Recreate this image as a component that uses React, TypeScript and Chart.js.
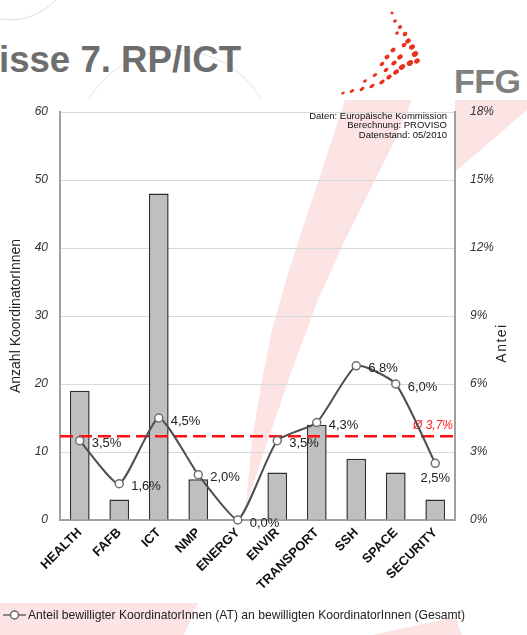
import React, { useEffect, useRef } from "react";
import { Chart, registerables } from "chart.js";

Chart.register(...registerables);

// ---------- data ----------
const categories = ["HEALTH", "FAFB", "ICT", "NMP", "ENERGY", "ENVIR", "TRANSPORT", "SSH", "SPACE", "SECURITY"];
const coordinatorCounts = [19, 3, 48, 6, 0, 7, 14, 9, 7, 3];
const shareAT = [3.5, 1.6, 4.5, 2.0, 0.0, 3.5, 4.3, 6.8, 6.0, 2.5];
const averageShare = 3.7;
const countMax = 60;
const countStep = 10;
const shareMax = 18;
const shareStep = 3;

const titleText = "isse 7. RP/ICT";
const logoText = "FFG";
const leftAxisTitle = "Anzahl KoordinatorInnen";
const rightAxisTitle = "Antei";
const sourceNote = ["Daten: Europäische Kommission", "Berechnung: PROVISO", "Datenstand: 05/2010"];
const averageLabel = "Ø 3,7%";
const legendLabel = "Anteil bewilligter KoordinatorInnen (AT) an bewilligten KoordinatorInnen (Gesamt)";

const FONT = "'Liberation Sans', Arial, Helvetica, sans-serif";
const NARROW = "'Liberation Sans Narrow', 'Arial Narrow', 'Liberation Sans', Arial, sans-serif";

const fmtPct = (v: number) => v.toFixed(1).replace(".", ",") + "%";

export default function App() {
  const ref = useRef<HTMLCanvasElement>(null);

  useEffect(() => {
    const canvas = ref.current;
    if (!canvas) return;

    const overlay = {
      id: "overlay",
      afterDatasetDraw(chart: any, args: any) {
        if (args.index !== 1) return;
        const { ctx, chartArea } = chart;
        const y = chart.scales.y1.getPixelForValue(averageShare);
        ctx.save();
        ctx.strokeStyle = "#ff1010";
        ctx.lineWidth = 2.5;
        ctx.setLineDash([13, 6]);
        ctx.beginPath();
        ctx.moveTo(chartArea.left, y);
        ctx.lineTo(chartArea.right, y);
        ctx.stroke();
        ctx.setLineDash([]);
        ctx.fillStyle = "#ff2020";
        ctx.font = `italic 12px ${FONT}`;
        ctx.textAlign = "right";
        ctx.textBaseline = "alphabetic";
        ctx.fillText(averageLabel, chartArea.right - 2, y - 7);
        ctx.restore();
      },
      afterDatasetsDraw(chart: any) {
        const { ctx, chartArea } = chart;
        const meta = chart.getDatasetMeta(0);
        ctx.save();
        ctx.font = `13px ${FONT}`;
        ctx.fillStyle = "#222";
        meta.data.forEach((pt: any, i: number) => {
          const txt = fmtPct(shareAT[i]);
          const w = ctx.measureText(txt).width;
          if (pt.x + 12 + w > chartArea.right) {
            ctx.textAlign = "center";
            ctx.textBaseline = "middle";
            ctx.fillText(txt, pt.x, pt.y + 15);
          } else {
            ctx.textAlign = "left";
            ctx.textBaseline = "middle";
            ctx.fillText(txt, pt.x + 12, pt.y + 3);
          }
        });
        // source note
        ctx.font = `9.5px ${FONT}`;
        ctx.fillStyle = "#111";
        ctx.textAlign = "right";
        ctx.textBaseline = "middle";
        sourceNote.forEach((line, i) => {
          ctx.fillText(line, chartArea.right - 8, chartArea.top + 4 + i * 9.5);
        });
        ctx.restore();
      },
      afterDraw(chart: any) {
        const { ctx, chartArea } = chart;
        ctx.save();
        // right axis title (reads bottom to top)
        ctx.translate(502, (chartArea.top + chartArea.bottom) / 2 + 27);
        ctx.rotate(-Math.PI / 2);
        ctx.font = `14px ${FONT}`;
        (ctx as any).letterSpacing = "1.5px";
        ctx.fillStyle = "#222";
        ctx.textAlign = "center";
        ctx.textBaseline = "middle";
        ctx.fillText(rightAxisTitle, 0, 0);
        ctx.restore();

        // legend
        ctx.save();
        const ly = 615;
        ctx.strokeStyle = "#666";
        ctx.lineWidth = 1.5;
        ctx.beginPath();
        ctx.moveTo(3, ly);
        ctx.lineTo(26, ly);
        ctx.stroke();
        ctx.beginPath();
        ctx.arc(14.5, ly, 4, 0, Math.PI * 2);
        ctx.fillStyle = "#fff";
        ctx.fill();
        ctx.stroke();
        ctx.font = `13px ${NARROW}`;
        const label = chart.data.datasets[0].label as string;
        const w = ctx.measureText(label).width;
        const target = 437;
        ctx.translate(28, ly);
        ctx.scale(target / w, 1);
        ctx.fillStyle = "#222";
        ctx.textAlign = "left";
        ctx.textBaseline = "middle";
        ctx.fillText(label, 0, 0);
        ctx.restore();
      },
    };

    const chart = new Chart(canvas, {
      type: "bar",
      data: {
        labels: categories,
        datasets: [
          {
            type: "line",
            label: legendLabel,
            data: shareAT,
            yAxisID: "y1",
            borderColor: "#4f4f4f",
            borderWidth: 2,
            tension: 0.18,
            pointRadius: 4,
            pointBackgroundColor: "#ffffff",
            pointBorderColor: "#707070",
            pointBorderWidth: 1.5,
            order: 0,
            clip: false,
          } as any,
          {
            type: "bar",
            label: "Anzahl KoordinatorInnen",
            data: coordinatorCounts,
            yAxisID: "y",
            backgroundColor: "#bfbfbf",
            borderColor: "#2e2e2e",
            borderWidth: 1.5,
            barPercentage: 0.5,
            categoryPercentage: 1,
            order: 1,
          } as any,
        ],
      },
      options: {
        animation: false,
        responsive: false,
        maintainAspectRatio: false,
        devicePixelRatio: 1,
        layout: { padding: { top: 112, left: 0, right: 0, bottom: 0 } },
        plugins: {
          legend: { display: false },
          tooltip: { enabled: false },
        },
        scales: {
          x: {
            afterFit: (s: any) => {
              s.height = 115;
            },
            grid: { display: false, drawTicks: false },
            border: { display: true, color: "#a0a0a0", width: 2 },
            ticks: {
              minRotation: 45,
              maxRotation: 45,
              autoSkip: false,
              padding: 5,
              color: "#111",
              font: { family: FONT, size: 13, weight: "bold" },
            },
          },
          y: {
            position: "left",
            min: 0,
            max: countMax,
            afterFit: (s: any) => {
              s.width = 60;
            },
            grid: { color: "#d9d9d9", lineWidth: 1, drawTicks: false },
            border: { display: true, color: "#a0a0a0", width: 2 },
            ticks: {
              stepSize: countStep,
              padding: 12,
              color: "#333",
              font: { family: FONT, size: 12, style: "italic" },
            },
            title: {
              display: true,
              text: leftAxisTitle,
              color: "#222",
              padding: { top: 8, bottom: 0 },
              font: { family: FONT, size: 14 },
            },
          },
          y1: {
            position: "right",
            min: 0,
            max: shareMax,
            afterFit: (s: any) => {
              s.width = 72;
            },
            grid: { display: false, drawTicks: false },
            border: { display: true, color: "#a0a0a0", width: 2 },
            ticks: {
              stepSize: shareStep,
              padding: 15,
              color: "#333",
              font: { family: FONT, size: 12, style: "italic" },
              callback: (v: any) => `${v}%`,
            },
          },
        },
      } as any,
      plugins: [overlay],
    });

    return () => chart.destroy();
  }, []);

  const dots: [number, number, number, number][] = [
    [392, 13, 1.5, 1.5], [395, 21, 2, 1.6], [400, 27, 2.2, 1.8], [397, 33, 2, 1.6], [405, 34, 2.5, 2],
    [408, 41, 3, 2.2], [412, 47, 3.2, 2.4], [415, 54, 3.4, 2.6], [417, 61, 3, 2.4], [410, 63, 3.4, 2.6],
    [402, 67, 3.4, 2.4], [396, 72, 3.2, 2.2], [389, 77, 3, 2], [382, 82, 3, 1.8], [372, 86, 3, 1.6],
    [362, 89, 2.8, 1.5], [352, 91, 2.5, 1.4], [343, 93, 2, 1.2], [393, 50, 2.8, 2], [387, 57, 2.8, 2],
    [400, 57, 3, 2.2], [382, 64, 2.6, 1.8], [394, 63, 3, 2], [386, 70, 2.6, 1.8], [375, 75, 2.4, 1.6],
    [404, 45, 2.6, 2], [365, 81, 2.2, 1.4],
  ];

  return (
    <div style={{ position: "fixed", left: 0, top: 0, width: 527, height: 635, background: "#ffffff", overflow: "hidden" }}>
      <svg width={527} height={635} style={{ position: "absolute", left: 0, top: 0 }}>
        <defs>
          <clipPath id="hdr">
            <rect x={0} y={0} width={527} height={100} />
          </clipPath>
        </defs>
        <g clipPath="url(#hdr)">
          <circle cx={10} cy={-42} r={62} fill="none" stroke="#dcdcdc" strokeWidth={1} />
          <circle cx={175} cy={150} r={100} fill="none" stroke="#e2e2e2" strokeWidth={1} />
        </g>
        <polygon
          points="345,100 412,100 395,140 370,190 345,240 318,300 292,370 268,440 246,505 252,440 262,380 272,330 286,280 302,230 322,170"
          fill="#fce4e4"
        />
        <polygon points="455,100 527,100 527,110 455,172" fill="#fce4e4" />
        <polygon points="0,603 198,603 184,635 0,635" fill="#fce4e4" />
        <polygon points="372,635 455,617 462,635" fill="#fce4e4" />
        {dots.map(([x, y, rx, ry], i) => (
          <ellipse key={i} cx={x} cy={y} rx={rx} ry={ry} transform={`rotate(-35 ${x} ${y})`} fill="#e8321e" />
        ))}
        <text
          x={-1}
          y={72}
          fill="#6e6e6e"
          fontFamily={FONT}
          fontWeight="bold"
          fontSize={36}
          textLength={242}
          lengthAdjust="spacingAndGlyphs"
        >
          {titleText}
        </text>
        <text
          x={454}
          y={93}
          fill="#808080"
          fontFamily={FONT}
          fontWeight="bold"
          fontSize={34}
          textLength={67}
          lengthAdjust="spacing"
        >
          {logoText}
        </text>
      </svg>
      <canvas ref={ref} width={527} height={635} style={{ position: "absolute", left: 0, top: 0 }} />
    </div>
  );
}
